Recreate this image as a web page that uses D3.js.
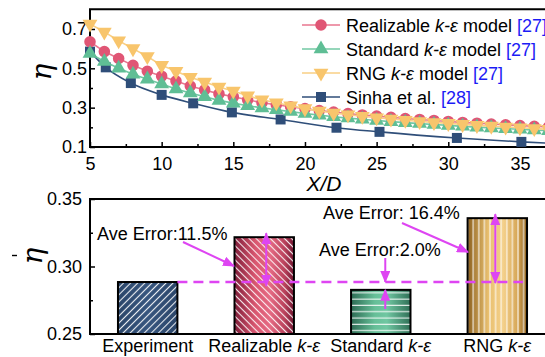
<!DOCTYPE html>
<html>
<head>
<meta charset="utf-8">
<script src="https://cdn.jsdelivr.net/npm/d3@7"></script>
<style>
  html, body { margin: 0; padding: 0; background: #fff; }
  svg { display: block; font-family: "Liberation Sans", Arial, Helvetica, sans-serif; }
</style>
</head>
<body>
<svg id="chart" width="545" height="357"></svg>
<script>
// ---------- centreline effectiveness along the plate ----------
const xdStations = [5, 6, 7, 8, 9, 10, 11, 12, 13, 14, 15, 16, 17, 18, 19, 20, 21, 22, 23, 24,
                    25, 26, 27, 28, 29, 30, 31, 32, 33, 34, 35, 36, 37, 38, 39, 40];
const realizableEta = [0.635, 0.585, 0.55, 0.515, 0.485, 0.46, 0.435, 0.41, 0.39, 0.37,
                       0.355, 0.34, 0.325, 0.315, 0.305, 0.295, 0.285, 0.278, 0.27, 0.263,
                       0.257, 0.251, 0.245, 0.24, 0.235, 0.23, 0.225, 0.221, 0.217, 0.213,
                       0.209, 0.205, 0.202, 0.199, 0.196, 0.193];
const standardEta = [0.575, 0.535, 0.5, 0.47, 0.445, 0.42, 0.395, 0.375, 0.355, 0.337,
                     0.323, 0.31, 0.299, 0.289, 0.28, 0.27, 0.262, 0.254, 0.247, 0.241,
                     0.235, 0.229, 0.224, 0.219, 0.214, 0.21, 0.205, 0.201, 0.197, 0.193,
                     0.19, 0.186, 0.183, 0.18, 0.177, 0.174];
const rngEta = [0.725, 0.685, 0.64, 0.6, 0.56, 0.515, 0.485, 0.455, 0.43, 0.405,
                0.385, 0.36, 0.34, 0.325, 0.31, 0.295, 0.283, 0.273, 0.264, 0.256,
                0.249, 0.242, 0.236, 0.23, 0.225, 0.22, 0.215, 0.21, 0.206, 0.202,
                0.198, 0.194, 0.19, 0.187, 0.184, 0.181];
const sinhaXD  = [5.0, 6.1, 7.85, 10.0, 12.2, 14.9, 18.3, 22.2, 25.2, 30.6, 35.1, 40.0];
const sinhaEta = [0.585, 0.505, 0.425, 0.365, 0.322, 0.276, 0.24, 0.198, 0.177, 0.146, 0.126, 0.11];

const profileTicksX = [5, 10, 15, 20, 25, 30, 35];
const profileMinorX = [7.5, 12.5, 17.5, 22.5, 27.5, 32.5, 37.5];
const profileTicksY = [0.1, 0.3, 0.5, 0.7];
const profileMinorY = [0.2, 0.4, 0.6];

// ---------- area-averaged effectiveness ----------
const barCategories = ["Experiment", "Realizable", "Standard", "RNG"];
const barValues = [0.2885, 0.3217, 0.2827, 0.3358];
const barTicksY = [0.25, 0.30, 0.35];
const barMinorY = [0.275, 0.325];
const errorTexts = ["Ave Error:11.5%", "Ave Error:2.0%", "Ave Error: 16.4%"];

const MAGENTA = "#de45f2";
const FONT = 18;

const svg = d3.select("#chart");
const defs = svg.append("defs");

// ================= top panel =================
const x = d3.scaleLinear([5, 40], [90, 591.6]);
const y = d3.scaleLinear([0.1, 0.8], [147, 9.3]);

const topPanel = svg.append("g");

// frame (left, bottom, top; the right side runs past the view)
topPanel.append("path")
  .attr("d", `M${x(40)},${y(0.8)} H${x(5)} V${y(0.1)} H${x(40)}`)
  .attr("fill", "none").attr("stroke", "#000").attr("stroke-width", 2);

const xAxis = topPanel.append("g").attr("transform", `translate(0,${y(0.1)})`)
  .call(d3.axisBottom(x).tickValues(profileTicksX).tickFormat(d3.format("d"))
        .tickSizeInner(-5).tickSizeOuter(0).tickPadding(10));
const xMinor = topPanel.append("g").attr("transform", `translate(0,${y(0.1)})`)
  .call(d3.axisBottom(x).tickValues(profileMinorX).tickFormat("")
        .tickSizeInner(-3).tickSizeOuter(0));
const yAxis = topPanel.append("g").attr("transform", `translate(${x(5)},0)`)
  .call(d3.axisLeft(y).tickValues(profileTicksY).tickFormat(d3.format(".1f"))
        .tickSizeInner(-5).tickSizeOuter(0).tickPadding(3));
const yMinor = topPanel.append("g").attr("transform", `translate(${x(5)},0)`)
  .call(d3.axisLeft(y).tickValues(profileMinorY).tickFormat("")
        .tickSizeInner(-3).tickSizeOuter(0));

[xAxis, xMinor, yAxis, yMinor].forEach(g => {
  g.select(".domain").remove();
  g.selectAll(".tick line").attr("stroke", "#000").attr("stroke-width", 1.5);
  g.selectAll(".tick text").attr("font-size", FONT).attr("fill", "#000")
    .attr("font-family", "Liberation Sans, Arial, sans-serif");
});

topPanel.append("text").attr("x", 324).attr("y", 191).attr("text-anchor", "middle")
  .attr("font-size", 21).attr("font-style", "italic").text("X/D");
topPanel.append("text").attr("transform", "translate(51,72) rotate(-90)")
  .attr("text-anchor", "middle").attr("font-size", 28).attr("font-style", "italic")
  .attr("font-family", "DejaVu Serif, Liberation Serif, serif").text("η");

const seriesDefs = [
  { name: "Realizable", ref: "[27]", xs: xdStations, ys: realizableEta, color: "#e05675", line: "#e8768f", shape: "circle" },
  { name: "Standard", ref: "[27]", xs: xdStations, ys: standardEta, color: "#5fbe95", line: "#72c8a3", shape: "up" },
  { name: "RNG", ref: "[27]", xs: xdStations, ys: rngEta, color: "#f8c56c", line: "#f9cf85", shape: "down" },
  { name: "Sinha", ref: "[28]", xs: sinhaXD, ys: sinhaEta, color: "#2f4e79", line: "#2f4e79", shape: "square" }
];

const symbolOf = {
  circle: d3.symbol(d3.symbolCircle, 105),
  up: d3.symbol(d3.symbolTriangle, 95),
  down: d3.symbol(d3.symbolTriangle, 95),
  square: d3.symbol(d3.symbolSquare, 100)
};
function markerTransform(shape, px, py) {
  return shape === "down" ? `translate(${px},${py}) rotate(180)` : `translate(${px},${py})`;
}

const plotClip = defs.append("clipPath").attr("id", "plotClip");
plotClip.append("rect").attr("x", 80).attr("y", 0).attr("width", 520).attr("height", 152);

const drawOrder = [3, 0, 1, 2];
const plotLayer = topPanel.append("g").attr("clip-path", "url(#plotClip)");
drawOrder.forEach(i => {
  const s = seriesDefs[i];
  const pts = s.xs.map((xv, k) => [xv, s.ys[k]]);
  const line = d3.line().x(d => x(d[0])).y(d => y(d[1]))
    .curve(s.shape === "square" ? d3.curveMonotoneX : d3.curveLinear);
  plotLayer.append("path").datum(pts).attr("d", line)
    .attr("fill", "none").attr("stroke", s.line).attr("stroke-width", 1.6);
  plotLayer.append("g").selectAll("path").data(pts).join("path")
    .attr("d", symbolOf[s.shape])
    .attr("transform", d => markerTransform(s.shape, x(d[0]), y(d[1])))
    .attr("fill", s.color);
});

// legend
const legend = topPanel.append("g");
const legendRows = [25, 49, 73, 97];
seriesDefs.forEach((s, i) => {
  const row = legend.append("g").attr("transform", `translate(0,${legendRows[i]})`);
  row.append("line").attr("x1", 302).attr("x2", 340).attr("y1", 0).attr("y2", 0)
    .attr("stroke", s.line).attr("stroke-width", 1.6);
  row.append("path").attr("d", symbolOf[s.shape])
    .attr("transform", markerTransform(s.shape, 321, 0)).attr("fill", s.color);
  const t = row.append("text").attr("x", 346).attr("y", 6.5).attr("font-size", FONT);
  if (s.shape === "square") {
    t.append("tspan").text("Sinha et al. ");
  } else {
    t.append("tspan").text(s.name + " ");
    t.append("tspan").attr("font-style", "italic").text("k-ε");
    t.append("tspan").text(" model ");
  }
  t.append("tspan").attr("fill", "#1b1bf5").text(s.ref);
});

// ================= bottom panel =================
const xb = d3.scaleBand(barCategories, [90, 555]).paddingInner(0.49).paddingOuter(0.24);
const yb = d3.scaleLinear([0.25, 0.35], [334, 199]);
const bw = xb.bandwidth();

const bottomPanel = svg.append("g");

// fills: horizontal gradients and white hatch patterns
function hGradient(id, stops) {
  const g = defs.append("linearGradient").attr("id", id)
    .attr("x1", "0%").attr("x2", "100%").attr("y1", "0%").attr("y2", "0%");
  stops.forEach(([o, c]) => g.append("stop").attr("offset", o).attr("stop-color", c));
}
hGradient("gExp", [["0%", "#2a4569"], ["50%", "#36557e"], ["100%", "#2a4569"]]);
hGradient("gReal", [["0%", "#7e1c38"], ["35%", "#d9566f"], ["60%", "#e56a83"], ["85%", "#b8405a"], ["100%", "#6e1430"]]);
hGradient("gStd", [["0%", "#2c6b53"], ["40%", "#66bf98"], ["60%", "#70c7a2"], ["100%", "#2f6f56"]]);
hGradient("gRng", [["0%", "#8d6220"], ["35%", "#e9c070"], ["60%", "#f4d08a"], ["85%", "#d5a556"], ["100%", "#8a5e1c"]]);

function hatch(id, w, h, transform, d) {
  const p = defs.append("pattern").attr("id", id).attr("patternUnits", "userSpaceOnUse")
    .attr("width", w).attr("height", h);
  if (transform) p.attr("patternTransform", transform);
  p.append("path").attr("d", d).attr("stroke", "#fff").attr("stroke-width", 1.1)
    .attr("stroke-opacity", 0.9).attr("fill", "none");
}
hatch("hExp", 5, 10, "rotate(45)", "M2.5,0 V10");
hatch("hReal", 5, 10, "rotate(-45)", "M2.5,0 V10");
hatch("hStd", 10, 6.3, null, "M0,3 H10");
hatch("hRng", 5.6, 10, null, "M2.8,0 V10");

const barFill = { Experiment: ["gExp", "hExp"], Realizable: ["gReal", "hReal"],
                  Standard: ["gStd", "hStd"], RNG: ["gRng", "hRng"] };
const bars = barCategories.map((c, i) => ({ c, v: barValues[i] }));

const barG = bottomPanel.append("g").selectAll("g").data(bars).join("g");
barG.append("rect")
  .attr("x", d => xb(d.c)).attr("width", bw)
  .attr("y", d => yb(d.v)).attr("height", d => yb(0.25) - yb(d.v))
  .attr("fill", d => `url(#${barFill[d.c][0]})`);
barG.append("rect")
  .attr("x", d => xb(d.c)).attr("width", bw)
  .attr("y", d => yb(d.v)).attr("height", d => yb(0.25) - yb(d.v))
  .attr("fill", d => `url(#${barFill[d.c][1]})`);
barG.append("rect")
  .attr("x", d => xb(d.c)).attr("width", bw)
  .attr("y", d => yb(d.v)).attr("height", d => yb(0.25) - yb(d.v))
  .attr("fill", "none").attr("stroke", "#000").attr("stroke-width", 2);

// frame
bottomPanel.append("path")
  .attr("d", `M560,${yb(0.35)} H90 V${yb(0.25)} H560`)
  .attr("fill", "none").attr("stroke", "#000").attr("stroke-width", 2);

const ybAxis = bottomPanel.append("g").attr("transform", "translate(90,0)")
  .call(d3.axisLeft(yb).tickValues(barTicksY).tickFormat(d3.format(".2f"))
        .tickSizeInner(-5).tickSizeOuter(0).tickPadding(8));
const ybMinor = bottomPanel.append("g").attr("transform", "translate(90,0)")
  .call(d3.axisLeft(yb).tickValues(barMinorY).tickFormat("")
        .tickSizeInner(-3).tickSizeOuter(0));
[ybAxis, ybMinor].forEach(g => {
  g.select(".domain").remove();
  g.selectAll(".tick line").attr("stroke", "#000").attr("stroke-width", 1.5);
  g.selectAll(".tick text").attr("font-size", FONT).attr("fill", "#000")
    .attr("font-family", "Liberation Sans, Arial, sans-serif");
});

// category labels
const catLabels = bottomPanel.append("g").selectAll("text").data(barCategories).join("text")
  .attr("x", d => xb(d) + bw / 2).attr("y", 352).attr("text-anchor", "middle")
  .attr("font-size", FONT);
catLabels.each(function (d) {
  const t = d3.select(this);
  if (d === "Experiment") { t.text(d); return; }
  t.append("tspan").text(d + " ");
  t.append("tspan").attr("font-style", "italic").text("k-ε");
});

// y title (eta with overbar)
bottomPanel.append("text").attr("transform", "translate(42,256) rotate(-90)")
  .attr("text-anchor", "middle").attr("font-size", 28).attr("font-style", "italic")
  .attr("font-family", "DejaVu Serif, Liberation Serif, serif").text("η");
bottomPanel.append("line").attr("x1", 12).attr("x2", 17).attr("y1", 255.5).attr("y2", 255.5)
  .attr("stroke", "#000").attr("stroke-width", 1.4);

// error annotations
defs.append("marker").attr("id", "head").attr("viewBox", "0 0 12 10")
  .attr("refX", 11).attr("refY", 5).attr("markerUnits", "userSpaceOnUse")
  .attr("markerWidth", 12).attr("markerHeight", 10).attr("orient", "auto-start-reverse")
  .append("path").attr("d", "M0,0 L12,5 L0,10 Z").attr("fill", MAGENTA);

const ann = bottomPanel.append("g");
const expY = yb(barValues[0]);
const cx = c => xb(c) + bw / 2;

ann.append("line")
  .attr("x1", xb("Experiment") + bw).attr("x2", xb("RNG") + bw - 4)
  .attr("y1", expY).attr("y2", expY)
  .attr("stroke", MAGENTA).attr("stroke-width", 2.4).attr("stroke-dasharray", "10,6");

function arrow(x1, y1, x2, y2, both) {
  const l = ann.append("line").attr("x1", x1).attr("y1", y1).attr("x2", x2).attr("y2", y2)
    .attr("stroke", MAGENTA).attr("stroke-width", 2).attr("marker-end", "url(#head)");
  if (both) l.attr("marker-start", "url(#head)");
}
// Realizable: double arrow between experiment level and bar top
arrow(cx("Realizable") + 2, expY + 4, cx("Realizable") + 2, yb(barValues[1]) - 4, true);
// Standard: converging arrows
arrow(cx("Standard") + 4.5, 258, cx("Standard") + 4.5, expY, false);
arrow(cx("Standard") + 4.5, 309, cx("Standard") + 4.5, yb(barValues[2]), false);
// RNG: double arrow
arrow(cx("RNG") - 2, expY + 1, cx("RNG") - 2, yb(barValues[3]) - 4, true);
// leaders from labels
arrow(183, 242, 234, 266, false);
arrow(402, 223, 468, 252, false);

ann.append("text").attr("x", 97).attr("y", 240).attr("font-size", FONT).text(errorTexts[0]);
ann.append("text").attr("x", 319).attr("y", 256).attr("font-size", FONT).text(errorTexts[1]);
ann.append("text").attr("x", 323).attr("y", 219).attr("font-size", FONT).text(errorTexts[2]);
</script>
</body>
</html>
